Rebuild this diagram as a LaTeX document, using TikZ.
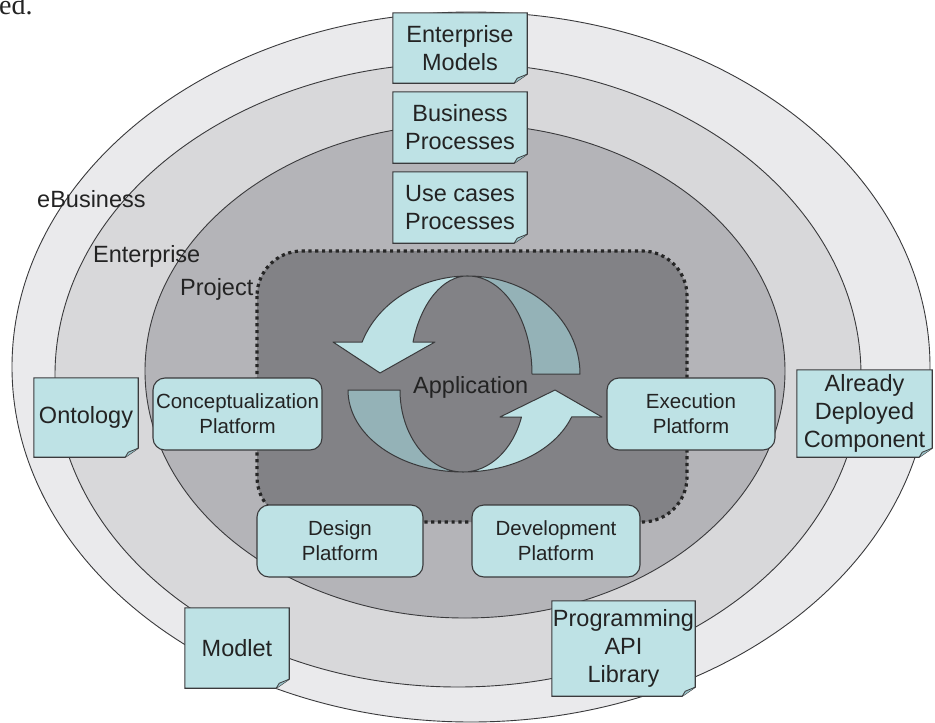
\documentclass[tikz,border=0pt]{standalone}
\usepackage{fontspec}
\setmainfont{Liberation Sans}
\newfontfamily\edfont{Liberation Serif}
\usepackage{xcolor}
\definecolor{ringouter}{RGB}{234,234,236}
\definecolor{ringent}{RGB}{216,216,218}
\definecolor{ringproj}{RGB}{180,180,184}
\definecolor{appgray}{RGB}{130,130,134}
\definecolor{notecyan}{RGB}{190,226,229}
\definecolor{foldcyan}{RGB}{152,192,198}
\definecolor{cycledark}{RGB}{148,178,183}
\definecolor{edgegray}{RGB}{58,58,60}
\definecolor{textgray}{RGB}{35,35,35}
\newcommand{\notesize}{\fontsize{23.5}{28}\selectfont}
\newcommand{\platsize}{\fontsize{20.5}{25}\selectfont}
\pgfdeclarelayer{back}
\pgfdeclarelayer{mid}
\pgfsetlayers{back,mid,main}
\tikzset{
  ring/.style={draw=edgegray,line width=0.9pt},
  dotframe/.style={draw=black!85,fill=appgray,line width=3.2pt,
                   dash pattern=on 3.2pt off 3.6pt,rounded corners=45pt},
  cyclearrow/.style={draw=edgegray,line width=1pt,line join=round},
  platform/.style={rectangle,rounded corners=12pt,draw=edgegray,
                   line width=1.1pt,fill=notecyan,align=center,
                   minimum height=72pt,inner sep=2pt,text=textgray,
                   font=\platsize},
  note/.style={rectangle,inner sep=0pt,align=center,text=textgray,
               font=\notesize},
  ringlabel/.style={anchor=base west,inner sep=0pt,text=textgray,
                    font=\notesize},
}

\begin{document}
\begin{tikzpicture}[x=1pt,y=-1pt,
    notebody/.style={draw=edgegray,line width=1.1pt,fill=notecyan},
    notefold/.style={draw=edgegray,line width=0.8pt,fill=foldcyan,
                     line join=round},
  ]
  \useasboundingbox (0,0) rectangle (935,723);

  \begin{pgfonlayer}{back}
    % rings
    \draw[ring,fill=ringouter] (471,367) ellipse [x radius=459,y radius=355];
    \draw[ring,fill=ringent]   (458,375) ellipse [x radius=403,y radius=312];
    \draw[ring,fill=ringproj]  (465,371) ellipse [x radius=320,y radius=247];
    % application area
    \draw[dotframe] (257,251) rectangle (687,522);
  \end{pgfonlayer}

  \node[font=\edfont\fontsize{28}{30}\selectfont,anchor=base west,
        inner sep=0pt,text=textgray] (edfrag) at (-1,14) {ed.};

  \node[ringlabel] (ebiz)    at (37,207)  {eBusiness};
  \node[ringlabel] (entlab)  at (93,262)  {Enterprise};
  \node[ringlabel] (projlab) at (180,295) {Project};

  % cycle
  \draw[cyclearrow,fill=cycledark] (468,276)
      arc[start angle=-90,end angle=0,x radius=112,y radius=98] -- (532,374)
      arc[start angle=0,end angle=-90,x radius=64,y radius=98] -- cycle;
  \draw[cyclearrow,fill=notecyan] (468,276)
      arc[start angle=-90,end angle=-161,x radius=112,y radius=98]
      -- (333,342) -- (380,373) -- (435,342) -- (413,342)
      arc[start angle=-161,end angle=-90,x radius=58,y radius=98] -- cycle;
  \draw[cyclearrow,fill=cycledark] (348,390) -- (400,390)
      arc[start angle=180,end angle=90,x radius=63,y radius=82]
      arc[start angle=90,end angle=180,x radius=115,y radius=82] -- cycle;
  \draw[cyclearrow,fill=notecyan] (463,472)
      arc[start angle=90,end angle=19.2,x radius=115,y radius=82]
      -- (602,417) -- (555,390) -- (500,417) -- (521.5,417)
      arc[start angle=19.2,end angle=90,x radius=62,y radius=82] -- cycle;
  \node[ringlabel] (app) at (413,393) {Application};

  \node[platform,minimum width=169pt] (concept) at (237.5,414) {Conceptualization\\Platform};
  \node[platform,minimum width=168pt] (exec)    at (691,414)   {Execution\\Platform};
  \node[platform,minimum width=166pt] (design)  at (340,541)   {Design\\Platform};
  \node[platform,minimum width=168pt] (devel)   at (556,541)   {Development\\Platform};

  \node[note,minimum width=134pt,minimum height=70pt] (entmod)   at (460,48)      {Enterprise\\Models};
  \node[note,minimum width=134pt,minimum height=71pt] (busproc)  at (460,127.5)   {Business\\Processes};
  \node[note,minimum width=134pt,minimum height=71pt] (usecase)  at (460,207.5)   {Use cases\\Processes};
  \node[note,minimum width=104pt,minimum height=79pt] (ontology) at (86,417.5)    {Ontology};
  \node[note,minimum width=135pt,minimum height=87pt] (deployed) at (864.5,413.5) {Already\\Deployed\\Component};
  \node[note,minimum width=104pt,minimum height=80pt] (modlet)   at (237,648)     {Modlet};
  \node[note,minimum width=143pt,minimum height=95pt] (proglib)  at (623.5,648.5) {Programming\\API\\Library};

  \foreach \n in {entmod,busproc,usecase,ontology,deployed,modlet,proglib}{
    \begin{pgfonlayer}{mid}
      \draw[notebody] (\n.north west) -- (\n.north east)
          -- ([yshift=9pt]\n.south east) -- ([xshift=-13pt]\n.south east)
          -- (\n.south west) -- cycle;
      \draw[notefold] ([yshift=9pt]\n.south east)
          -- ([xshift=-10pt,yshift=5pt]\n.south east)
          -- ([xshift=-13pt]\n.south east);
    \end{pgfonlayer}
  }
\end{tikzpicture}
\end{document}
